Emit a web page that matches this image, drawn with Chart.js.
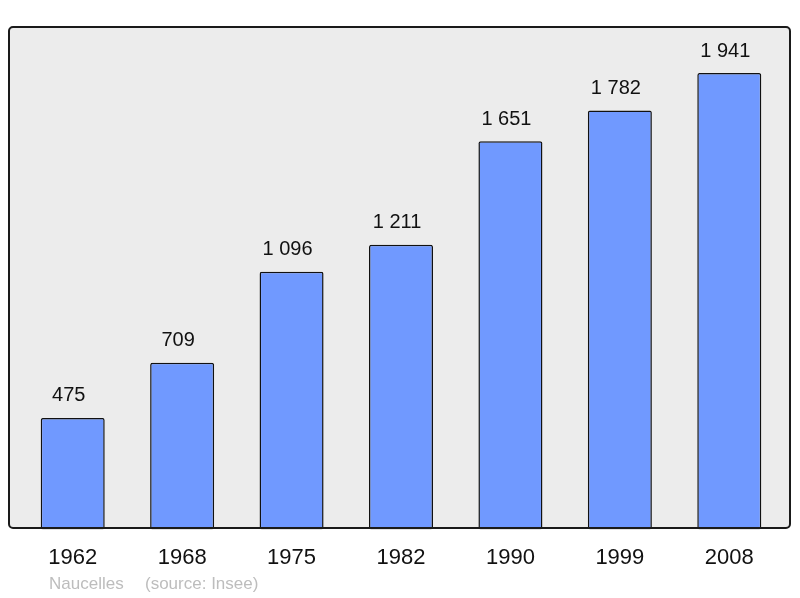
<!DOCTYPE html>
<html>
<head>
<meta charset="utf-8">
<script src="https://cdn.jsdelivr.net/npm/chart.js@4/dist/chart.umd.min.js"></script>
<style>
  html, body { margin: 0; padding: 0; background: #fff; }
  #wrap { width: 800px; height: 598px; }
</style>
</head>
<body>
<div id="wrap"><canvas id="popChart"></canvas></div>
<script>
const years = ['1962', '1968', '1975', '1982', '1990', '1999', '2008'];
const population = [475, 709, 1096, 1211, 1651, 1782, 1941];
const footerText = ['Naucelles', '(source: Insee)'];

// thousands with a space, like "1 941"
const fmt = (v) => String(v).replace(/\B(?=(\d{3})+(?!\d))/g, ' ');

const frameBox = { left: 9, top: 27, right: 790, bottom: 528 };

const roundRect = (ctx, x, y, w, h, r) => {
    ctx.beginPath();
    ctx.moveTo(x + r, y);
    ctx.arcTo(x + w, y, x + w, y + h, r);
    ctx.arcTo(x + w, y + h, x, y + h, r);
    ctx.arcTo(x, y + h, x, y, r);
    ctx.arcTo(x, y, x + w, y, r);
    ctx.closePath();
};

const framePlugin = {
    id: 'frame',
    beforeDatasetsDraw(chart) {
        const ctx = chart.ctx;
        ctx.save();
        roundRect(ctx, frameBox.left, frameBox.top, frameBox.right - frameBox.left, frameBox.bottom - frameBox.top, 4);
        ctx.fillStyle = '#ececec';
        ctx.fill();
        ctx.restore();
    },
    afterDatasetsDraw(chart) {
        const ctx = chart.ctx;
        ctx.save();
        roundRect(ctx, frameBox.left, frameBox.top, frameBox.right - frameBox.left, frameBox.bottom - frameBox.top, 4);
        ctx.lineWidth = 2;
        ctx.strokeStyle = '#1a1a1a';
        ctx.stroke();

        // value labels above bars (sit a little left of the bar centre)
        const meta = chart.getDatasetMeta(0);
        ctx.font = '20px "Liberation Sans", Arial, sans-serif';
        ctx.fillStyle = '#111';
        ctx.textAlign = 'center';
        ctx.textBaseline = 'middle';
        meta.data.forEach((bar, i) => {
            ctx.fillText(fmt(population[i]), bar.x - 4, bar.y - 22);
        });

        // source line
        ctx.font = '17px "Liberation Sans", Arial, sans-serif';
        ctx.fillStyle = '#bdbdbd';
        ctx.textAlign = 'left';
        ctx.fillText(footerText[0], 49, 584);
        ctx.fillText(footerText[1], 145, 584);
        ctx.restore();
    }
};

new Chart(document.getElementById('popChart'), {
    type: 'bar',
    data: {
        labels: years,
        datasets: [{
            data: population,
            backgroundColor: '#7099ff',
            borderColor: '#111',
            borderWidth: 1.5,
            borderSkipped: false,
            borderRadius: 2,
            barPercentage: 0.585,
            categoryPercentage: 1
        }]
    },
    options: {
        responsive: true,
        maintainAspectRatio: false,
        animation: false,
        layout: { padding: { left: 18, right: 16, top: 27, bottom: 12 } },
        plugins: {
            legend: { display: false },
            tooltip: { enabled: false }
        },
        scales: {
            x: {
                grid: { display: false, drawTicks: false },
                border: { display: false },
                ticks: {
                    color: '#111',
                    padding: 15,
                    font: { size: 22, family: '"Liberation Sans", Arial, sans-serif' }
                }
            },
            y: {
                display: false,
                min: 0,
                max: 2137
            }
        }
    },
    plugins: [framePlugin]
});
</script>
</body>
</html>
